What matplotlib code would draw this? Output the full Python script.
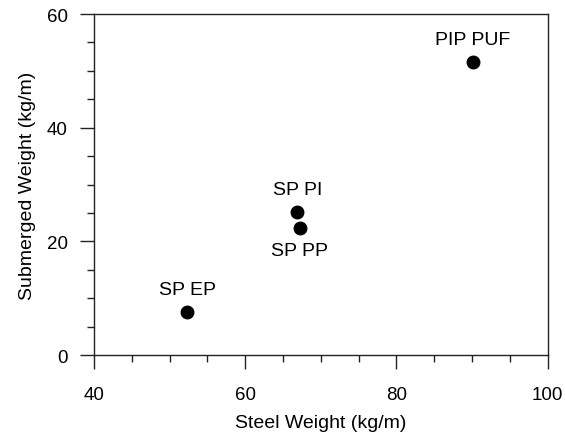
import numpy as np
from matplotlib import pyplot as plt
from matplotlib.ticker import MultipleLocator

plt.rcParams['font.family'] = ['Liberation Sans', 'DejaVu Sans']

# pipe systems: steel weight vs submerged weight
names = ['SP EP', 'SP PI', 'SP PP', 'PIP PUF']
steel = [52.3, 66.9, 67.2, 90.1]
submerged = [7.5, 25.1, 22.4, 51.5]
# label placement: above or below the point
label_pos = ['above', 'above', 'below', 'above']

fig = plt.figure(figsize=(5.65, 4.35), dpi=100)
ax = fig.add_axes([0.1664, 0.1816, 0.8030, 0.7839])

ax.plot(steel, submerged, 'o', color='black', markersize=9, clip_on=False)

for n, x, y, p in zip(names, steel, submerged, label_pos):
    if p == 'above':
        ax.annotate(n, (x, y), xytext=(0, 10), textcoords='offset points',
                    ha='center', va='bottom', fontsize=14)
    else:
        ax.annotate(n, (x, y), xytext=(0, -10), textcoords='offset points',
                    ha='center', va='top', fontsize=14)

ax.set_xlim(40, 100)
ax.set_ylim(0, 60)
ax.xaxis.set_major_locator(MultipleLocator(20))
ax.xaxis.set_minor_locator(MultipleLocator(5))
ax.yaxis.set_major_locator(MultipleLocator(20))
ax.yaxis.set_minor_locator(MultipleLocator(5))

for s in ax.spines.values():
    s.set_linewidth(1.0)
    s.set_color('#222222')

ax.tick_params(which='major', direction='out', length=10, width=1.0,
               color='#222222', labelsize=13.5, top=False, right=False)
ax.tick_params(axis='x', which='major', pad=12)
ax.tick_params(axis='y', which='major', pad=9)
ax.tick_params(which='minor', direction='out', length=5, width=1.0,
               color='#222222', top=False, right=False)

ax.set_xlabel('Steel Weight (kg/m)', fontsize=14, labelpad=8)
ax.set_ylabel('Submerged Weight (kg/m)', fontsize=14, labelpad=8)

fig.savefig('out.png', dpi=100)
